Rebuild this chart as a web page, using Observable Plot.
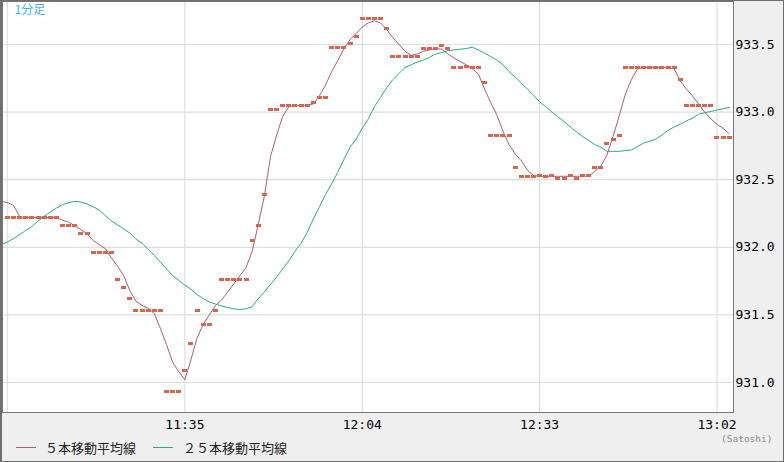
<!DOCTYPE html>
<html><head><meta charset="utf-8">
<script src="https://cdn.jsdelivr.net/npm/d3@7"></script>
<script src="https://cdn.jsdelivr.net/npm/@observablehq/plot@0.6"></script>
<style>
html,body{margin:0;padding:0;background:#fff;}
#box{position:relative;width:784px;height:462px;box-sizing:border-box;border:1px solid #6f6f6f;border-left-width:2px;background:#efefef;overflow:hidden;}
#legend{position:absolute;left:0;top:440px;width:100%;height:14px;font-family:"Noto Sans CJK JP",sans-serif;font-size:13px;line-height:13px;color:#222;}
.sw{position:absolute;top:6px;width:20px;height:1px;}
.lt{position:absolute;top:0;white-space:nowrap;}
#credit{position:absolute;left:719px;top:432px;font-family:"DejaVu Sans Mono",monospace;font-size:9.5px;line-height:11px;color:#8a8a8a;}
</style></head>
<body>
<div id="box"><div id="chart"></div>
<div id="legend"></div>
<div id="credit">(Satoshi)</div>
</div>
<script>
// ---- data ----
const startTime = "11:06";           // time of first close
const closes = [
 932.22,932.22,932.22,932.22,932.22,932.22,932.22,932.22,932.22,
 932.16,932.16,932.16,
 932.10,932.10,
 931.96,931.96,931.96,931.96,
 931.76,931.70,931.62,
 931.53,931.53,931.53,931.53,931.53,
 930.93,930.93,930.93,
 931.09,931.29,931.53,931.43,931.43,931.53,
 931.76,931.76,931.76,931.76,931.76,
 932.05,932.16,932.39,
 933.02,933.02,
 933.05,933.05,933.05,933.05,933.05,
 933.07,933.11,933.11,
 933.48,933.48,933.48,933.51,933.56,
 933.69,933.69,933.69,933.69,
 933.62,
 933.41,933.41,933.41,933.41,933.41,
 933.47,933.47,933.47,933.49,933.47,
 933.33,933.33,933.34,933.33,933.33,
 933.22,
 932.83,932.83,932.83,932.83,
 932.59,
 932.52,932.52,932.52,932.53,932.52,932.53,932.51,932.51,932.53,932.51,932.53,932.53,
 932.59,932.59,932.77,932.80,932.83,
 933.33,933.33,933.33,933.33,933.33,933.33,933.33,933.33,933.33,
 933.24,
 933.05,933.05,933.05,933.05,933.05,
 932.81,932.81,932.81
];
const maStartOffset = -1;            // moving averages start one minute before first close
const ma5 = [
 932.34,932.33,932.31,932.225,932.22,932.22,932.22,932.22,932.22,932.22,
 932.20,932.185,932.16,932.13,932.10,932.05,932.02,931.99,931.92,931.86,
 931.79,931.68,931.60,931.57,931.55,931.51,931.40,931.28,931.15,931.08,
 931.02,931.17,931.33,931.43,931.50,931.57,931.61,931.67,931.73,931.79,
 931.85,931.97,932.17,932.38,932.67,932.83,932.97,933.04,933.05,933.05,
 933.05,933.06,933.12,933.20,933.30,933.38,933.47,933.535,933.58,933.63,
 933.66,933.675,933.66,933.61,933.55,933.50,933.45,933.42,933.43,933.45,
 933.46,933.47,933.465,933.43,933.40,933.375,933.35,933.32,933.28,933.17,
 933.07,932.98,932.86,932.76,932.69,932.64,932.57,932.53,932.525,932.525,
 932.525,932.525,932.525,932.525,932.525,932.525,932.525,932.56,932.60,932.68,
 932.82,932.97,933.13,933.24,933.32,933.33,933.33,933.33,933.33,933.33,
 933.32,933.23,933.17,933.12,933.06,933.00,932.95,932.91,932.88,932.84
];
const ma25 = [
 932.02,932.04,932.065,932.095,932.125,932.155,932.195,932.23,932.26,932.29,
 932.315,932.33,932.34,932.335,932.32,932.30,932.275,932.235,932.195,932.165,
 932.135,932.105,932.06,932.03,931.985,931.94,931.89,931.84,931.79,931.755,
 931.72,931.69,931.65,931.62,931.595,931.58,931.565,931.555,931.545,931.54,
 931.545,931.56,931.62,931.67,931.725,931.78,931.84,931.90,931.97,932.03,
 932.11,932.21,932.30,932.39,932.47,932.555,932.65,932.74,932.80,932.88,
 932.95,933.04,933.11,933.18,933.24,933.285,933.33,933.35,933.37,933.385,
 933.405,933.43,933.44,933.455,933.46,933.465,933.47,933.48,933.46,933.435,
 933.41,933.385,933.35,933.30,933.26,933.215,933.17,933.125,933.075,933.04,
 933.00,932.965,932.93,932.89,932.855,932.82,932.79,932.76,932.74,932.71,
 932.71,932.71,932.715,932.72,932.745,932.77,932.785,932.80,932.83,932.865,
 932.89,932.91,932.935,932.955,932.985,932.995,933.005,933.015,933.025,933.035
];
const gridTimes = ["11:06","11:35","12:04","12:33","13:02"];
const xTickLabels = ["11:35","12:04","12:33","13:02"];
const yTicks = [931.0,931.5,932.0,932.5,933.0,933.5];
const seriesNames = ["５本移動平均線","２５本移動平均線"];
const chartTitle = "1分足";

// ---- build ----
const toDate = s => { const [h,m] = s.split(":").map(Number); return new Date(Date.UTC(2024,0,1,h,m)); };
const t0 = toDate(startTime);
const atMinute = k => new Date(t0.getTime() + k*60000);
const closeRows = closes.map((v,i)=>({t:atMinute(i), v}));
const ma5Rows = ma5.map((v,i)=>({t:atMinute(i+maStartOffset), v}));
const ma25Rows = ma25.map((v,i)=>({t:atMinute(i+maStartOffset), v}));

const C5 = "#ac5a84", C25 = "#27ad7c", CDOT = "#d6664c";
const dash = { draw(ctx){ ctx.rect(-2.5,-1.5,5,3); } };

const chart = Plot.plot({
  width: 781, height: 440,
  marginLeft: 0, marginTop: 0, marginRight: 50, marginBottom: 29,
  style: {background:"transparent", overflow:"visible"},
  x: {type:"utc", domain:[atMinute(-0.82), atMinute(118.7)]},
  y: {domain:[930.778, 933.818]},
  marks: [
    Plot.frame({fill:"#ffffff", stroke:null}),
    Plot.gridX({ticks: gridTimes.map(toDate), stroke:"#dedede", strokeOpacity:1, strokeWidth:1.2}),
    Plot.gridY({ticks: yTicks, stroke:"#dedede", strokeOpacity:1, strokeWidth:1.2}),
    Plot.line(ma25Rows, {x:"t", y:"v", stroke:C25, strokeWidth:1, clip:true}),
    Plot.line(ma5Rows, {x:"t", y:"v", stroke:C5, strokeWidth:1, clip:true}),
    Plot.dot(closeRows, {x:"t", y:"v", symbol:dash, fill:CDOT, stroke:null, shapeRendering:"crispEdges", clip:true}),
    Plot.frame({stroke:"#777777", strokeWidth:1}),
    Plot.axisY({anchor:"right", ticks:yTicks, tickSize:0, tickPadding:2, tickFormat:d3.format(".1f"),
      fontSize:13, fontFamily:"DejaVu Sans Mono", fill:"#000", label:null}),
    Plot.axisX({ticks:xTickLabels.map(toDate), tickSize:0, tickPadding:7, tickFormat:d3.utcFormat("%H:%M"),
      fontSize:13, fontFamily:"DejaVu Sans Mono", fill:"#000", label:null}),
    Plot.text([chartTitle], {frameAnchor:"top-left", dx:12, dy:4, textAnchor:"start", lineAnchor:"top",
      fill:"#3cb6ee", fontSize:12, fontFamily:"Noto Sans CJK JP"})
  ]
});
document.getElementById("chart").appendChild(chart);

const lg = document.getElementById("legend");
const swX = [14, 151], txX = [43, 181], cols = [C5, C25];
seriesNames.forEach((n,i)=>{
  const s = document.createElement("span"); s.className="sw"; s.style.left=swX[i]+"px"; s.style.background=cols[i]; lg.appendChild(s);
  const t = document.createElement("span"); t.className="lt"; t.style.left=txX[i]+"px"; t.textContent=n; lg.appendChild(t);
});
</script>
</body></html>
